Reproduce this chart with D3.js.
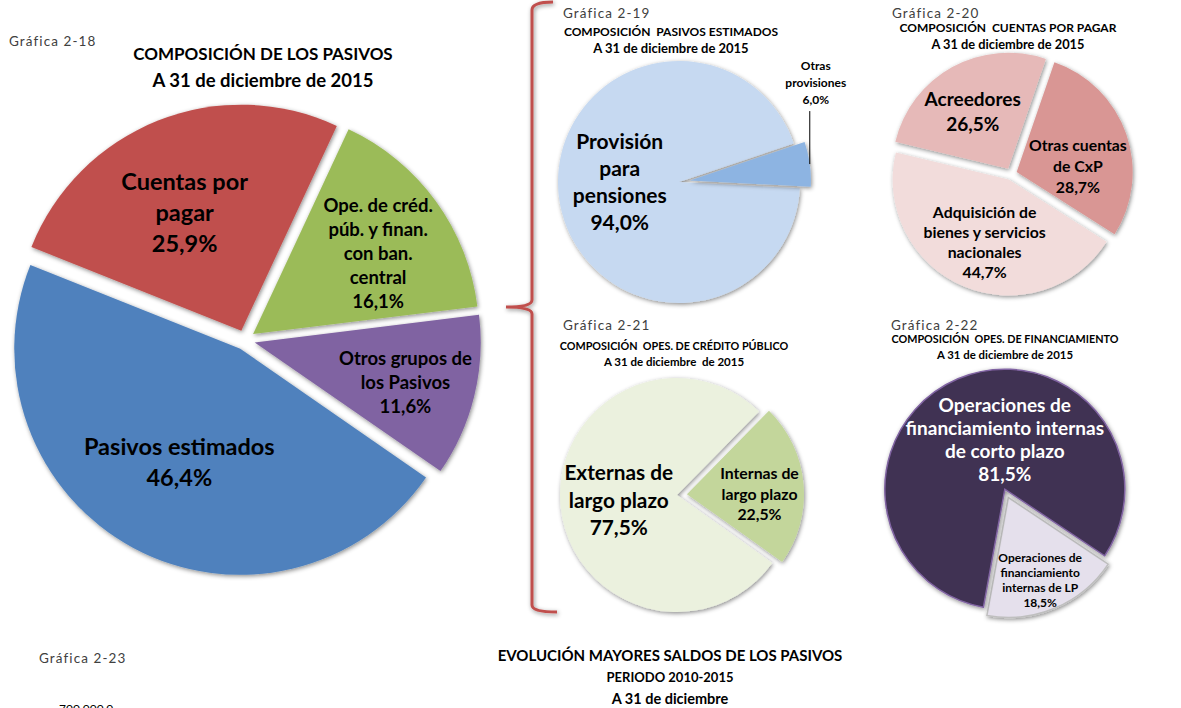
<!DOCTYPE html>
<html>
<head>
<meta charset="utf-8">
<script src="https://cdn.jsdelivr.net/npm/d3@7"></script>
<style>
	body { margin: 0; background: #fff; }
	svg { display: block; font-family: "Lato", "Open Sans", sans-serif; }
	.grafica { fill: #404040; letter-spacing: 1.1px; }
	.title { font-weight: bold; fill: #000; white-space: pre; }
	.slice-label { font-weight: bold; }
</style>
</head>
<body>
<div id="wrapper"></div>
<script>

// 1. Data

const mainCategories = [["Ope. de créd.", "púb. y finan.", "con ban.", "central"], ["Otros grupos de", "los Pasivos"], ["Pasivos estimados"], ["Cuentas por", "pagar"]];
const mainValues = [16.1, 11.6, 46.4, 25.9];

const estimadosCategories = [["Provisión", "para", "pensiones"], ["Otras", "provisiones"]];
const estimadosValues = [94.0, 6.0];

const cxpCategories = [["Otras cuentas", "de CxP"], ["Adquisición de", "bienes y servicios", "nacionales"], ["Acreedores"]];
const cxpValues = [28.7, 44.7, 26.5];

const creditoCategories = [["Internas de", "largo plazo"], ["Externas de", "largo plazo"]];
const creditoValues = [22.5, 77.5];

const financCategories = [["Operaciones de", "financiamiento", "internas de LP"], ["Operaciones de", "financiamiento internas", "de corto plazo"]];
const financValues = [18.5, 81.5];

const graficaNames = ["Gráfica 2-18", "Gráfica 2-19", "Gráfica 2-20", "Gráfica 2-21", "Gráfica 2-22", "Gráfica 2-23"];
const mainTitle = ["COMPOSICIÓN DE LOS PASIVOS", "A 31 de diciembre de 2015"];
const estimadosTitle = ["COMPOSICIÓN  PASIVOS ESTIMADOS", "A 31 de diciembre de 2015"];
const cxpTitle = ["COMPOSICIÓN  CUENTAS POR PAGAR", "A 31 de diciembre de 2015"];
const creditoTitle = ["COMPOSICIÓN  OPES. DE CRÉDITO PÚBLICO", "A 31 de diciembre  de 2015"];
const financTitle = ["COMPOSICIÓN  OPES. DE FINANCIAMIENTO", "A 31 de diciembre de 2015"];
const evolucionTitle = ["EVOLUCIÓN MAYORES SALDOS DE LOS PASIVOS", "PERIODO 2010-2015", "A 31 de diciembre"];
const evolucionTick = "700.000,0";

// 2. Setup

const width = 1181;
const height = 708;
const rad = Math.PI / 180;
const pct = d => d3.format(".1f")(d).replace(".", ",") + "%";

const svg = d3.select("#wrapper")
				.append("svg")
				.attr("width", width)
				.attr("height", height);

const defs = svg.append("defs");
defs.append("filter")
	.attr("id", "shadow")
	.attr("x", "-20%").attr("y", "-20%")
	.attr("width", "140%").attr("height", "140%")
	.append("feDropShadow")
	.attr("dx", 1)
	.attr("dy", 1.5)
	.attr("stdDeviation", 2)
	.attr("flood-color", "#000")
	.attr("flood-opacity", 0.45);

// 3. Pie helper

function drawPie (cfg) {
	const pie = d3.pie()
					.sort(null)
					.value(d => d)
					.startAngle(cfg.start * rad)
					.endAngle(cfg.start * rad + 2 * Math.PI);

	const arc = d3.arc().innerRadius(0).outerRadius(cfg.r);
	const arcs = pie(cfg.values);

	const g = svg.append("g")
				.attr("transform", `translate(${cfg.cx}, ${cfg.cy})`);

	const slices = g.selectAll(".slice")
					.data(arcs)
					.join("g")
					.attr("class", "slice")
					.attr("transform", (d, i) => {
						const mid = (d.startAngle + d.endAngle) / 2;
						const e = cfg.explode[i];
						return `translate(${e * Math.sin(mid)}, ${-e * Math.cos(mid)})`;
					});

	slices.append("path")
		.attr("d", arc)
		.attr("fill", (d, i) => cfg.colors[i])
		.attr("stroke", (d, i) => (cfg.strokes && cfg.strokes[i]) || "none")
		.attr("stroke-width", 1.5)
		.attr("filter", "url(#shadow)");

	slices.each(function (d, i) {
		const group = d3.select(this);
		const lines = cfg.categories[i].concat([pct(cfg.values[i])]);
		const size = cfg.labelSizes[i];
		const lh = cfg.lineHeights[i];
		const mid = (d.startAngle + d.endAngle) / 2;

		let x, y;
		if (cfg.outside && cfg.outside[i]) {
			// leader line going up from the arc
			const px = cfg.r * Math.sin(mid);
			const py = -cfg.r * Math.cos(mid);
			group.append("line")
				.attr("x1", px).attr("y1", py)
				.attr("x2", px).attr("y2", py - cfg.outside[i])
				.attr("stroke", "#000")
				.attr("stroke-width", 1);
			x = px + 6;
			y = py - cfg.outside[i] - 5 - lh * (lines.length - 1) / 2 - size * 0.5;
		} else {
			const a = mid + cfg.labelShift[i] * rad;
			const lr = cfg.labelR[i] * cfg.r;
			x = lr * Math.sin(a);
			y = -lr * Math.cos(a);
		}

		const text = group.append("text")
							.attr("class", "slice-label")
							.attr("text-anchor", "middle")
							.style("font-size", `${size}px`)
							.attr("fill", cfg.labelColors[i]);

		lines.forEach((line, j) => {
			text.append("tspan")
				.attr("x", x)
				.attr("y", y + (j - (lines.length - 1) / 2) * lh)
				.attr("dy", "0.36em")
				.text(line);
		});
	});
}

function drawTitle (lines, x, y, sizes, gap) {
	const t = svg.append("text")
				.attr("class", "title")
				.attr("text-anchor", "middle");
	lines.forEach((line, j) => {
		t.append("tspan")
			.attr("x", x)
			.attr("y", y + j * gap)
			.attr("dy", "0.36em")
			.style("font-size", `${sizes[j]}px`)
			.text(line);
	});
}

function drawGrafica (name, x, y) {
	svg.append("text")
		.attr("class", "grafica")
		.attr("x", x)
		.attr("y", y)
		.attr("dy", "0.36em")
		.style("font-size", "13.5px")
		.text(name);
}

// 4. Grafica 2-18

drawGrafica(graficaNames[0], 9, 41);
drawTitle(mainTitle, 263, 54, [17, 18.5], 26);
drawPie({
	cx: 245, cy: 340, r: 226, start: 25,
	values: mainValues,
	categories: mainCategories,
	colors: ["#9BBB59", "#8064A2", "#4F81BD", "#C0504D"],
	explode: [10, 10, 10, 10],
	labelR: [0.66, 0.69, 0.57, 0.58],
	labelShift: [3, 1, 0, -4],
	labelSizes: [18.5, 18.5, 23.5, 23.5],
	lineHeights: [24, 24, 31, 31],
	labelColors: ["#000", "#000", "#000", "#000"]
});

// bracket

svg.append("path")
	.attr("d", "M553,2 Q532,2 532,10 L532,300 Q532,307 506,307 Q532,307 532,314 L532,605 Q532,612 557,612")
	.attr("fill", "none")
	.attr("stroke", "#C0504D")
	.attr("stroke-width", 3)
	.attr("filter", "url(#shadow)");

// 5. Grafica 2-19

drawGrafica(graficaNames[1], 563, 13);
drawTitle(estimadosTitle, 671, 32, [12, 13], 16);
drawPie({
	cx: 679, cy: 182, r: 121, start: 93,
	values: estimadosValues,
	categories: estimadosCategories,
	colors: ["#C6D9F1", "#8DB4E2"],
	explode: [0, 11],
	labelR: [0.49, 0],
	labelShift: [8, 0],
	outside: [0, 53],
	labelSizes: [21, 12],
	lineHeights: [27, 17],
	labelColors: ["#000", "#000"]
});

// 6. Grafica 2-20

drawGrafica(graficaNames[2], 892, 13);
drawTitle(cxpTitle, 1008, 28, [12, 12.8], 16);
drawPie({
	cx: 1011, cy: 174, r: 116, start: 19,
	values: cxpValues,
	categories: cxpCategories,
	colors: ["#D99694", "#F2DCDB", "#E6B9B8"],
	explode: [6, 6, 6],
	labelR: [0.53, 0.58, 0.58],
	labelShift: [14, -2, -3],
	labelSizes: [15.8, 15.8, 19],
	lineHeights: [21, 20, 25],
	labelColors: ["#000", "#000", "#000"]
});

// 7. Grafica 2-21

drawGrafica(graficaNames[3], 563, 325);
drawTitle(creditoTitle, 674, 346, [10.8, 11.5], 16);
drawPie({
	cx: 677, cy: 495, r: 117, start: 44.5,
	values: creditoValues,
	categories: creditoCategories,
	colors: ["#C3D69B", "#EBF1DE"],
	explode: [10, 0],
	labelR: [0.62, 0.5],
	labelShift: [5, 0],
	labelSizes: [15.8, 20.8],
	lineHeights: [20.5, 27.5],
	labelColors: ["#000", "#000"]
});

// 8. Grafica 2-22

drawGrafica(graficaNames[4], 891, 325);
drawTitle(financTitle, 1005, 339, [10.8, 11.4], 16);
drawPie({
	cx: 1006, cy: 492, r: 120, start: 123.7,
	values: financValues,
	categories: financCategories,
	colors: ["#E5E0EC", "#403152"],
	strokes: ["#BFBFBF", "#8064A2"],
	explode: [6, 3],
	labelR: [0.74, 0.41],
	labelShift: [2, 23],
	labelSizes: [12, 19],
	lineHeights: [15, 23],
	labelColors: ["#000", "#fff"]
});

// 9. Grafica 2-23 (start of next chart)

drawGrafica(graficaNames[5], 39, 658);
drawTitle(evolucionTitle, 670, 656, [15, 13, 14.5], 21.5);
svg.append("text")
	.attr("x", 59)
	.attr("y", 713)
	.style("font-size", "12px")
	.attr("fill", "#000")
	.text(evolucionTick);

</script>
</body>
</html>
